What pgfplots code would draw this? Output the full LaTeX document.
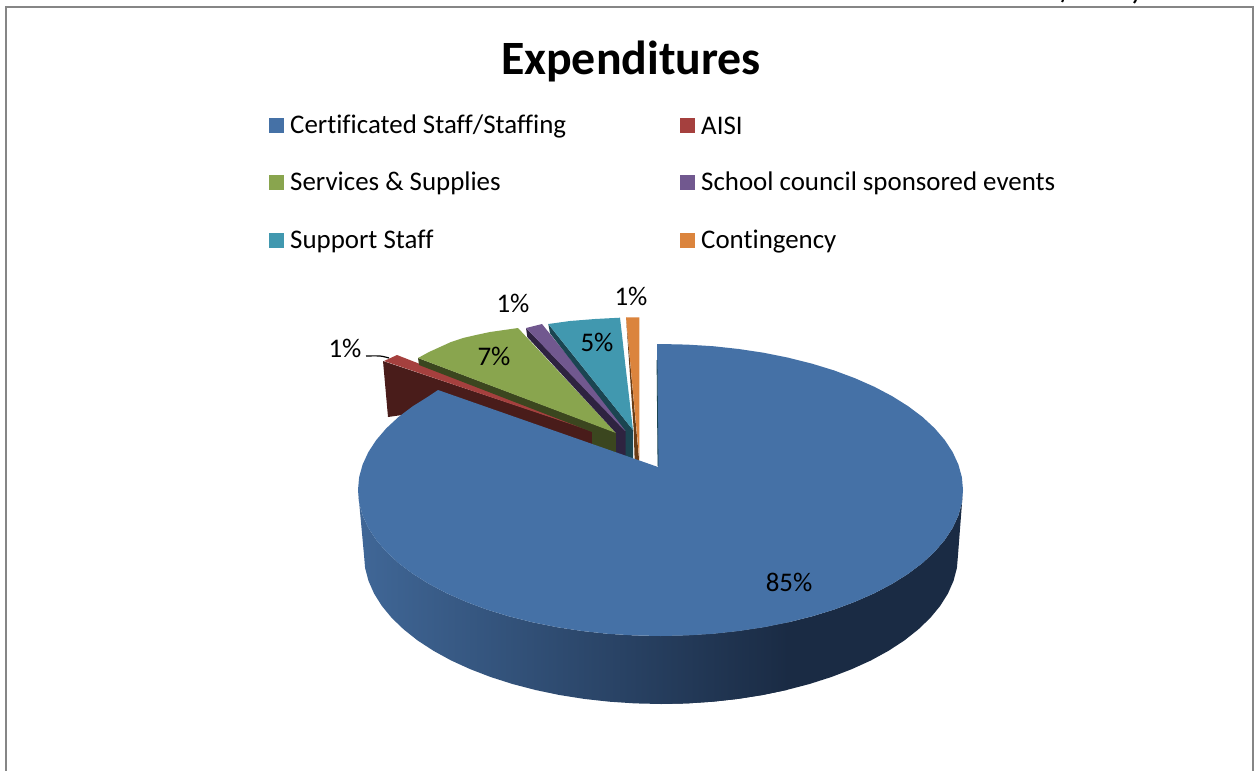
\documentclass[border=0pt]{standalone}
\usepackage{pgfplots}
\pgfplotsset{compat=1.18}
\usepackage{fontspec}
\setmainfont[Ligatures=CommonOff]{Carlito}
\definecolor{cblue}{HTML}{4571A6}
\definecolor{cred}{HTML}{A5403E}
\definecolor{cgreen}{HTML}{89A54E}
\definecolor{cpurple}{HTML}{71588F}
\definecolor{cteal}{HTML}{4198AF}
\definecolor{corange}{HTML}{DB843D}
\definecolor{dred}{HTML}{491C1A}
\definecolor{dgreen}{HTML}{3B461F}
\definecolor{dpurple}{HTML}{2E2340}
\definecolor{dteal}{HTML}{1B4551}
\definecolor{dorange}{HTML}{6B3D16}
\definecolor{frame}{HTML}{868686}
\definecolor{wallL}{HTML}{406797}
\definecolor{wallM}{HTML}{2E4D77}
\definecolor{wallR}{HTML}{1A2B44}
\pgfplotsset{poly/.style={fill=#1,draw=none,no markers,forget plot}}
\newcommand{\lbl}[3]{\node[anchor=#1,inner sep=0pt,font=\fontsize{27}{32}\selectfont] at (axis cs:#2) {#3};}
\begin{document}
\begin{tikzpicture}
\path[use as bounding box] (0,0) rectangle (1255bp,771bp);
\begin{axis}[scale only axis,width=1255bp,height=771bp,xmin=0,xmax=1255,ymin=0,ymax=771,y dir=reverse,hide axis,clip=true]
% frame
\addplot[draw=frame,line width=2bp,no markers,forget plot] coordinates {(6,771) (6,7) (1253,7) (1253,771)};
\addplot[draw=black,line width=2bp,no markers,forget plot] coordinates {(1063,0) (1062,2)};
\addplot[draw=black,line width=2bp,no markers,forget plot] coordinates {(1136,0) (1134,3)};
% side wall of the large slice: dark base
\addplot[poly=wallR] coordinates {
(963,490) (961.9,502.7) (958.4,515.4) (952.7,527.8) (944.8,539.9) (934.7,551.7) (922.5,563) (908.3,573.7) (892.2,583.8) (874.4,593.2) (854.9,601.8) (834,609.6) (811.8,616.4) (788.3,622.3) (764,627.2) (738.8,631) (713,633.8) (686.9,635.4) (660.5,636)
(661,704) (686.9,703.4) (712.6,701.7) (737.9,698.9) (762.6,695) (786.5,690) (809.5,684) (831.4,677) (851.9,669.1) (871,660.4) (888.5,650.8) (904.3,640.5) (918.2,629.5) (930.2,618) (940.1,606) (947.9,593.6) (953.5,580.9) (956.9,568) (958,555)};
% side wall: graded part
\addplot[draw=none,no markers,forget plot,left color=wallL,middle color=wallM,right color=wallR] coordinates {
(788.3,622.3) (764,627.2) (738.8,631) (713,633.8) (686.9,635.4) (660.5,636) (634.1,635.4) (608,633.8) (582.2,631) (557,627.2) (532.7,622.3) (509.2,616.4) (487,609.6) (466.1,601.8) (446.6,593.2) (428.8,583.8) (412.7,573.7) (398.5,563) (386.3,551.7) (376.2,539.9) (368.3,527.8) (362.6,515.4) (359.1,502.7) (358,490)
(364,555) (365.1,568) (368.5,580.9) (374.1,593.6) (381.9,606) (391.8,618) (403.8,629.5) (417.7,640.5) (433.5,650.8) (451,660.4) (470.1,669.1) (490.6,677) (512.5,684) (535.5,690) (559.4,695) (584.1,698.9) (609.4,701.7) (635.1,703.4) (661,704) (686.9,703.4) (712.6,701.7) (737.9,698.9) (762.6,695) (786.5,690)};
% AISI
\addplot[poly=dred] coordinates {(383,361) (388,417) (438,410) (593,450) (593,431)};
\addplot[poly=cred] coordinates {(384,361) (397,355) (591,431)};
% Services
\addplot[poly=dgreen] coordinates {(418,358) (419,365) (592,432) (592,450) (617,460) (617,433)};
\addplot[poly=cgreen] coordinates {(418,358) (429,352) (440,347) (451,342) (463,338) (476,335) (490,332) (504,330) (518,328) (616,433)};
% School council
\addplot[poly=dpurple] coordinates {(526,328) (527.3,337) (616,433) (616,460) (626,462) (626,431)};
\addplot[poly=cpurple] coordinates {(526,328) (542,324) (625,427) (625,431)};
% Support staff
\addplot[poly=dteal] coordinates {(548.3,324) (550,333.3) (625.7,431) (625.7,462) (633,464) (633,430)};
\addplot[poly=cteal] coordinates {(548.3,324) (570,321) (595,319) (620,317.7) (622,335) (625,362) (633,430)};
% Contingency
\addplot[poly=dorange] coordinates {(626,317) (633.7,430) (634.7,462) (639.3,462)};
\addplot[poly=corange] coordinates {(626,317.3) (639.3,317.3) (639.3,459)};
% top of the large slice
\addplot[poly=cblue] coordinates {(657,344) (660.5,344) (686.9,344.6) (713,346.2) (738.8,349) (764,352.8) (788.3,357.7) (811.8,363.6) (834,370.4) (854.9,378.2) (874.4,386.8) (892.2,396.2) (908.3,406.3) (922.5,417) (934.7,428.3) (944.8,440.1) (952.7,452.2) (958.4,464.6) (961.9,477.3) (963,490) (961.9,502.7) (958.4,515.4) (952.7,527.8) (944.8,539.9) (934.7,551.7) (922.5,563) (908.3,573.7) (892.2,583.8) (874.4,593.2) (854.9,601.8) (834,609.6) (811.8,616.4) (788.3,622.3) (764,627.2) (738.8,631) (713,633.8) (686.9,635.4) (660.5,636) (634.1,635.4) (608,633.8) (582.2,631) (557,627.2) (532.7,622.3) (509.2,616.4) (487,609.6) (466.1,601.8) (446.6,593.2) (428.8,583.8) (412.7,573.7) (398.5,563) (386.3,551.7) (376.2,539.9) (368.3,527.8) (362.6,515.4) (359.1,502.7) (358,490) (359.1,477.3) (362.6,464.6) (368.3,452.2) (376.2,440.1) (386.3,428.3) (398.5,417) (412.7,406.3) (428.8,396.2) (438,390) (658,467)};
\addplot[draw=dteal,line width=0.8bp,no markers,forget plot] coordinates {(657,360) (658,466)};
% leader
\addplot[draw=black,line width=1.2bp,no markers,forget plot,smooth] coordinates {(366,356) (380,356) (389,358)};
% legend keys
\addplot[poly=cblue] coordinates {(269,118) (284,118) (284,133) (269,133)};
\addplot[poly=cred] coordinates {(680,118) (695,118) (695,133) (680,133)};
\addplot[poly=cgreen] coordinates {(269,175) (284,175) (284,190) (269,190)};
\addplot[poly=cpurple] coordinates {(680,175) (695,175) (695,190) (680,190)};
\addplot[poly=cteal] coordinates {(269,233) (284,233) (284,248) (269,248)};
\addplot[poly=corange] coordinates {(680,233) (695,233) (695,248) (680,248)};
% text
\node[inner sep=0pt,font=\fontsize{48}{56}\selectfont\bfseries] at (axis cs:631,61) {Expenditures};
\lbl{west}{290,126.5}{Certificated Staff/Staffing}
\lbl{west}{701,125.5}{AISI}
\lbl{west}{290,183.5}{Services \& Supplies}
\lbl{west}{701,183.5}{School council sponsored events}
\lbl{west}{290,241.5}{Support Staff}
\lbl{west}{701,241.5}{Contingency}
\lbl{center}{345,348}{1\%}
\lbl{center}{513,303}{1\%}
\lbl{center}{631,296}{1\%}
\lbl{center}{494,356}{7\%}
\lbl{center}{597,342}{5\%}
\lbl{center}{789,582}{85\%}
\end{axis}
\end{tikzpicture}
\end{document}
